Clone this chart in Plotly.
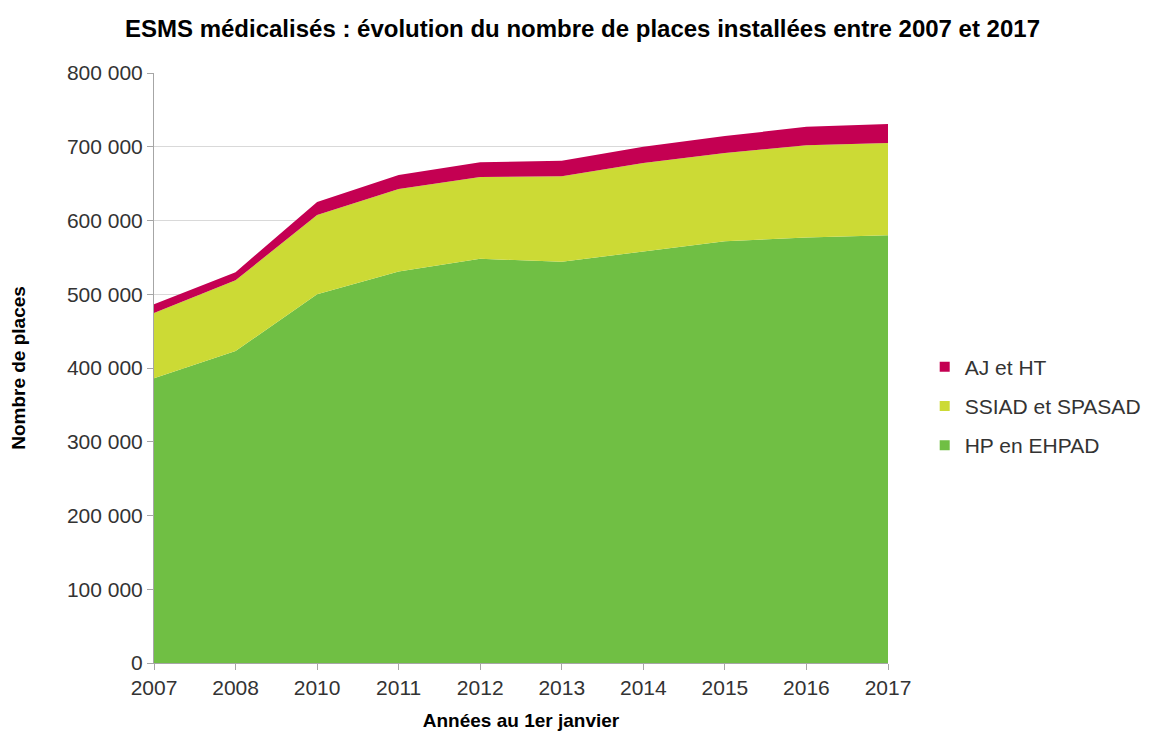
import plotly.graph_objects as go

years = ["2007", "2008", "2010", "2011", "2012", "2013", "2014", "2015", "2016", "2017"]
hp_ehpad = [386000, 423000, 500000, 531000, 548000, 544000, 558000, 572000, 577000, 580000]
ssiad_spasad = [88600, 96000, 107500, 111700, 111000, 116000, 120000, 119500, 125000, 125000]
aj_ht = [12000, 11000, 17500, 19000, 20000, 21000, 22000, 23000, 25000, 26000]

y_ticks = [0, 100000, 200000, 300000, 400000, 500000, 600000, 700000, 800000]
y_ticktext = ["0", "100 000", "200 000", "300 000", "400 000", "500 000", "600 000", "700 000", "800 000"]

series = [
    ("HP en EHPAD", hp_ehpad, "#70BF44"),
    ("SSIAD et SPASAD", ssiad_spasad, "#CCDA35"),
    ("AJ et HT", aj_ht, "#C40052"),
]

fig = go.Figure()
for name, vals, col in series:
    fig.add_trace(go.Scatter(
        x=years, y=vals, name=name, mode="lines",
        stackgroup="one", line=dict(width=0, color=col),
        fillcolor=col, showlegend=False, hoverinfo="x+y+name",
    ))
# legend entries with small square markers (top of stack listed first)
for name, vals, col in reversed(series):
    fig.add_trace(go.Scatter(
        x=[None], y=[None], name=name, mode="markers",
        marker=dict(symbol="square", size=10, color=col),
        legendgroup=name, showlegend=True,
    ))

font_main = "Liberation Sans, Arial, sans-serif"
fig.update_layout(
    width=1141, height=723,
    margin=dict(l=146, r=261, t=65, b=68, autoexpand=False),
    paper_bgcolor="white", plot_bgcolor="white",
    font=dict(family=font_main, size=21, color="#333333"),
    title=dict(
        text="<b>ESMS médicalisés : évolution du nombre de places installées entre 2007 et 2017</b>",
        x=0.5035, xanchor="center", y=0.972, yanchor="middle",
        font=dict(family=font_main, size=24, color="#000000"),
    ),
    showlegend=True,
    legend=dict(
        traceorder="grouped", x=1.05, xanchor="left", y=0.4356, yanchor="middle",
        font=dict(size=21, color="#333333"), tracegroupgap=9,
        itemwidth=30,
    ),
    xaxis=dict(
        type="category", range=[0, len(years) - 1], automargin=False,
        showline=True, linecolor="#A6A6A6", linewidth=1,
        ticks="outside", tickcolor="#A6A6A6", ticklen=6,
        showgrid=False, zeroline=False,
        tickfont=dict(size=21, color="#333333"),
        title=dict(text="<b>Années au 1er janvier</b>", standoff=15,
                   font=dict(family=font_main, size=19, color="#000000")),
    ),
    yaxis=dict(
        range=[0, 800000], tickvals=y_ticks, ticktext=y_ticktext, automargin=False,
        showline=True, linecolor="#A6A6A6", linewidth=1,
        ticks="outside", tickcolor="#A6A6A6", ticklen=6,
        showgrid=True, gridcolor="#D9D9D9", gridwidth=1, zeroline=False,
        tickfont=dict(size=21, color="#333333"),
        title=dict(text="<b>Nombre de places</b>", standoff=40,
                   font=dict(family=font_main, size=19, color="#000000")),
    ),
)

fig.write_html("out.html")
